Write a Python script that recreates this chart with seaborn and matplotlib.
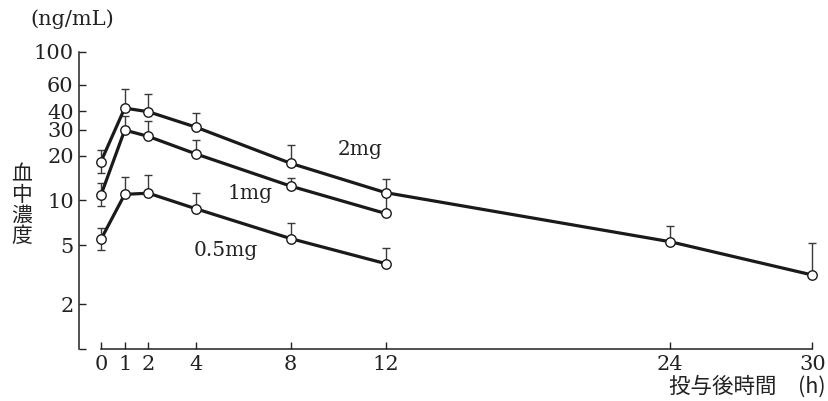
import numpy as np
import pandas as pd
import matplotlib
matplotlib.use('Agg')
import matplotlib.pyplot as plt
import seaborn as sns

# Plasma concentration (ng/mL) after a single dose, mean with upper SD
times = [0, 1, 2, 4, 8, 12, 24, 30]
time_ticks = [0, 1, 2, 4, 8, 12, 24, 30]
conc_ticks = [1, 2, 5, 10, 20, 30, 40, 60, 100]
conc_tick_labels = ['', '2', '5', '10', '20', '30', '40', '60', '100']

mean_2mg = [18.3, 41.9, 39.6, 31.2, 17.8, 11.3, 5.28, 3.15]
upper_2mg = [22.0, 56.1, 52.4, 38.8, 23.6, 14.0, 6.72, 5.15]
lower_2mg = [15.2, 41.9, 39.6, 31.2, 17.8, 11.3, 5.28, 3.15]

mean_1mg = [10.9, 29.8, 27.0, 20.6, 12.5, 8.18]
upper_1mg = [13.1, 37.1, 34.5, 25.5, 14.2, 10.9]
lower_1mg = [9.23, 29.8, 27.0, 20.6, 12.5, 8.18]

mean_05mg = [5.48, 11.0, 11.2, 8.80, 5.54, 3.76]
upper_05mg = [6.48, 14.5, 14.8, 11.3, 7.10, 4.78]
lower_05mg = [4.65, 11.0, 11.2, 8.80, 5.54, 3.76]

doses = ['2mg', '1mg', '0.5mg']
series = {
    '2mg': (mean_2mg, lower_2mg, upper_2mg),
    '1mg': (mean_1mg, lower_1mg, upper_1mg),
    '0.5mg': (mean_05mg, lower_05mg, upper_05mg),
}
label_pos = {'2mg': (10.0, 21.9), '1mg': (5.33, 11.2), '0.5mg': (3.89, 4.64)}

rows = []
for d in doses:
    m, lo, hi = series[d]
    for t, v, l, h in zip(times, m, lo, hi):
        rows.append({'time': t, 'conc': v, 'lo': l, 'hi': h, 'dose': d})
df = pd.DataFrame(rows)

sns.set_style('white')
plt.rcParams['font.family'] = ['DejaVu Serif', 'Noto Sans CJK JP']
plt.rcParams['mathtext.fontset'] = 'dejavuserif'

fig = plt.figure(figsize=(8.29, 4.01), dpi=100)
ax = fig.add_axes([79.3 / 829, 52 / 401, (812.3 - 79.3) / 829, 297 / 401])

for d in doses:
    sub = df[df['dose'] == d]
    yerr = np.vstack([sub['conc'] - sub['lo'], sub['hi'] - sub['conc']])
    eb = ax.errorbar(sub['time'], sub['conc'], yerr=yerr, fmt='none',
                     ecolor='#3a3a3a', elinewidth=1.0, capsize=3.2,
                     capthick=1.0, zorder=2)
    for art in eb.lines[1] + eb.lines[2]:
        art.set_clip_on(False)
    sns.lineplot(data=sub, x='time', y='conc', ax=ax, color='#1a1a1a',
                 linewidth=2.3, marker='o', markersize=6.8,
                 markerfacecolor='white', markeredgecolor='#1a1a1a',
                 markeredgewidth=1.0, errorbar=None, legend=False, zorder=3,
                 clip_on=False)
    lx, ly = label_pos[d]
    ax.text(lx, ly, d, fontsize=14.5, ha='left', va='center', color='#222222')

ax.set_yscale('log')
ax.set_ylim(1, 100)
ax.set_xlim(-0.915, 30)
ax.set_yticks(conc_ticks)
ax.set_yticklabels(conc_tick_labels)
ax.yaxis.set_minor_locator(matplotlib.ticker.NullLocator())
ax.set_xticks(time_ticks)
ax.set_xticklabels([str(t) for t in time_ticks])

for s in ['top', 'right']:
    ax.spines[s].set_visible(False)
for s in ['left', 'bottom']:
    ax.spines[s].set_color('#222222')
    ax.spines[s].set_linewidth(1.1)
ax.spines['bottom'].set_bounds(0, 30)

ax.tick_params(axis='both', direction='in', length=5, width=1.0,
               colors='#222222', labelsize=15, pad=4,
               left=True, bottom=True)
ax.set_xlabel('')
ax.set_ylabel('')
ax.grid(False)

fig.text(72 / 829, 1 - 19 / 401, '(ng/mL)', fontsize=15, ha='center',
         va='center', color='#222222')
fig.text(22 / 829, 1 - 205 / 401, '血\n中\n濃\n度', fontsize=15, ha='center',
         va='center', linespacing=0.92, color='#222222',
         family=['Noto Sans CJK JP', 'DejaVu Serif'])
fig.text(826 / 829, 1 - 387 / 401, '投与後時間\u3000(h)', fontsize=15.5,
         ha='right', va='center', color='#222222',
         family=['Noto Sans CJK JP', 'DejaVu Serif'])

plt.savefig('out.png', dpi=100, facecolor='white')
print('Done. Image saved as out.png')
